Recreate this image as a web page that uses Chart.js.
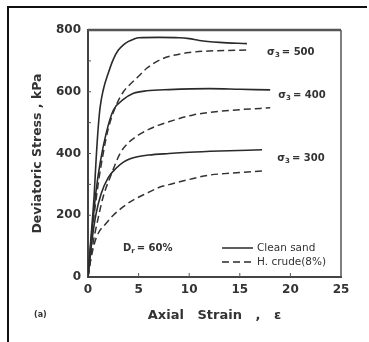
<!DOCTYPE html>
<html><head><meta charset="utf-8">
<script src="https://cdn.jsdelivr.net/npm/chart.js@4/dist/chart.umd.min.js"></script>
<style>
html,body{margin:0;padding:0;background:#fff;}
#wrap{position:relative;width:369px;height:342px;overflow:hidden;}
#frame{position:absolute;left:7px;top:6px;width:358px;height:340px;border-top:2px solid #111;border-left:2px solid #111;pointer-events:none;}
canvas{position:absolute;left:0;top:0;}
</style></head><body>
<div id="wrap"><canvas id="c" width="369" height="342"></canvas><div id="frame"></div></div>
<script>
// Axial strain (%) and deviatoric stress (kPa), Dr = 60%
const xTicks = [0, 5, 10, 15, 20, 25];
const yTicks = [0, 200, 400, 600, 800];

const clean500Strain = [0, 0.3, 0.6, 0.8, 1.0, 1.2, 1.5, 2.0, 2.5, 3.0, 3.5, 4.0, 4.5, 5.0, 7.0, 9.0, 10.0, 11.0, 13.0, 15.7];
const clean500Stress = [0, 130, 260, 380, 480, 550, 605, 660, 705, 735, 752, 763, 770, 775, 776, 775, 772, 766, 760, 756];

const crude500Strain = [0, 0.5, 1.0, 1.5, 2.0, 2.8, 3.5, 4.1, 5.0, 5.8, 7.1, 8.1, 10.0, 12.0, 15.8];
const crude500Stress = [0, 170, 300, 400, 480, 557, 600, 622, 650, 676, 703, 715, 727, 732, 735];

const clean400Strain = [0, 0.4, 0.8, 1.2, 1.8, 2.5, 3.5, 4.5, 5.8, 8.0, 12.0, 15.0, 18.0];
const clean400Stress = [0, 150, 280, 370, 466, 540, 575, 595, 603, 607, 610, 608, 606];

const crude400Strain = [0, 0.5, 1.0, 1.5, 2.2, 3.2, 4.0, 5.0, 6.0, 7.0, 8.5, 10.4, 12.0, 15.0, 18.0];
const crude400Stress = [0, 110, 190, 260, 324, 402, 435, 460, 478, 492, 508, 525, 533, 542, 548];

const clean300Strain = [0, 0.4, 0.8, 1.3, 2.0, 2.8, 3.5, 4.1, 5.0, 6.0, 8.0, 10.0, 13.0, 17.2];
const clean300Stress = [0, 120, 205, 270, 322, 353, 372, 382, 390, 395, 400, 404, 408, 412];

const crude300Strain = [0, 0.3, 0.6, 1.0, 1.8, 2.5, 3.5, 4.5, 5.8, 7.0, 8.1, 10.0, 12.0, 14.0, 17.2];
const crude300Stress = [0, 60, 105, 141, 174, 200, 228, 250, 271, 290, 300, 316, 330, 336, 343];

const seriesNames = ['Clean sand', 'H. crude(8%)'];
const confiningLabels = ['500', '400', '300'];

const zip = (xs, ys) => xs.map((x, i) => ({ x, y: ys[i] }));
const ink = '#2a2a2a';

function solid(label, xs, ys) {
  return { label, data: zip(xs, ys), borderColor: ink, borderWidth: 1.6, pointRadius: 0, cubicInterpolationMode: 'monotone', fill: false };
}
function dashed(label, xs, ys) {
  return { label, data: zip(xs, ys), borderColor: '#333', borderWidth: 1.5, borderDash: [7, 4], pointRadius: 0, cubicInterpolationMode: 'monotone', fill: false };
}

// frame, inner ticks, curve labels and the small key inside the plot
const decorations = {
  id: 'decorations',
  afterDatasetsDraw(chart) {
    const { ctx, chartArea: a, scales: { x, y } } = chart;
    ctx.save();
    ctx.strokeStyle = '#555';
    ctx.lineWidth = 2.5;
    ctx.beginPath(); ctx.moveTo(a.left, a.top); ctx.lineTo(a.right, a.top); ctx.stroke();
    ctx.lineWidth = 1.5;
    ctx.beginPath(); ctx.moveTo(a.right, a.top); ctx.lineTo(a.right, a.bottom); ctx.stroke();
    ctx.lineWidth = 1;
    xTicks.slice(1, -1).forEach(v => {
      const px = x.getPixelForValue(v);
      ctx.beginPath(); ctx.moveTo(px, a.bottom); ctx.lineTo(px, a.bottom - 4); ctx.stroke();
    });
    for (let v = 100; v < 800; v += 100) {
      const py = y.getPixelForValue(v);
      ctx.beginPath(); ctx.moveTo(a.left, py); ctx.lineTo(a.left + 3, py); ctx.stroke();
    }

    ctx.fillStyle = '#333';
    ctx.textBaseline = 'middle';
    ctx.textAlign = 'left';
    const sigma = (txt, ex, sy) => {
      const px = x.getPixelForValue(ex), py = y.getPixelForValue(sy);
      ctx.font = 'bold 10px "DejaVu Sans"';
      ctx.fillText('σ', px, py);
      let w = ctx.measureText('σ').width;
      ctx.font = 'bold 7px "DejaVu Sans"';
      ctx.fillText('3', px + w, py + 3);
      w += ctx.measureText('3').width + 2;
      ctx.font = 'bold 10px "DejaVu Sans"';
      ctx.fillText('= ' + txt, px + w, py);
    };
    sigma(confiningLabels[0], 17.7, 729);
    sigma(confiningLabels[1], 18.8, 589);
    sigma(confiningLabels[2], 18.7, 385);

    // D_r = 60%
    const dx = 123, dy = 248;
    ctx.font = 'bold 10px "DejaVu Sans"';
    ctx.fillText('D', dx, dy);
    let w = ctx.measureText('D').width;
    ctx.font = 'bold 7px "DejaVu Sans"';
    ctx.fillText('r', dx + w, dy + 3);
    w += ctx.measureText('r').width + 2;
    ctx.font = 'bold 10px "DejaVu Sans"';
    ctx.fillText('= 60%', dx + w, dy);

    // key
    ctx.strokeStyle = ink; ctx.lineWidth = 1.5;
    ctx.beginPath(); ctx.moveTo(222, 248); ctx.lineTo(253, 248); ctx.stroke();
    ctx.setLineDash([7, 4]);
    ctx.beginPath(); ctx.moveTo(222, 262); ctx.lineTo(253, 262); ctx.stroke();
    ctx.setLineDash([]);
    ctx.font = '10.5px "DejaVu Sans"';
    ctx.fillText(seriesNames[0], 257, 248);
    ctx.fillText(seriesNames[1], 257, 262);

    ctx.font = 'bold 8px "DejaVu Sans"';
    ctx.fillText('(a)', 34, 315);
    ctx.restore();
  }
};

new Chart(document.getElementById('c'), {
  type: 'line',
  data: {
    datasets: [
      solid(seriesNames[0] + ' 500', clean500Strain, clean500Stress),
      dashed(seriesNames[1] + ' 500', crude500Strain, crude500Stress),
      solid(seriesNames[0] + ' 400', clean400Strain, clean400Stress),
      dashed(seriesNames[1] + ' 400', crude400Strain, crude400Stress),
      solid(seriesNames[0] + ' 300', clean300Strain, clean300Stress),
      dashed(seriesNames[1] + ' 300', crude300Strain, crude300Stress)
    ]
  },
  options: {
    responsive: false,
    animation: false,
    layout: { padding: { left: 0, right: 28, top: 30, bottom: 0 } },
    plugins: { legend: { display: false }, tooltip: { enabled: false } },
    scales: {
      x: {
        type: 'linear', min: 0, max: 25,
        afterFit: s => { s.height = 65; },
        afterBuildTicks: s => { s.ticks = xTicks.map(v => ({ value: v })); },
        grid: { display: false, drawTicks: false },
        border: { display: true, color: '#444', width: 2 },
        ticks: { padding: 6, color: '#333', font: { family: 'DejaVu Sans', size: 12, weight: 'bold' } },
        title: { display: true, text: 'Axial   Strain   ,   ε', color: '#333', font: { family: 'DejaVu Sans', size: 13, weight: 'bold' }, padding: { top: 0, bottom: 19 } }
      },
      y: {
        type: 'linear', min: 0, max: 800,
        afterFit: s => { s.width = 88; },
        afterBuildTicks: s => { s.ticks = yTicks.map(v => ({ value: v })); },
        grid: { display: false, drawTicks: false },
        border: { display: true, color: '#444', width: 2 },
        ticks: { padding: 7, color: '#333', font: { family: 'DejaVu Sans', size: 12, weight: 'bold' } },
        title: { display: true, text: 'Deviatoric Stress , kPa', color: '#333', font: { family: 'DejaVu Sans', size: 12.5, weight: 'bold' }, padding: { top: 30.5, bottom: 0 } }
      }
    }
  },
  plugins: [decorations]
});
</script>
</body></html>
